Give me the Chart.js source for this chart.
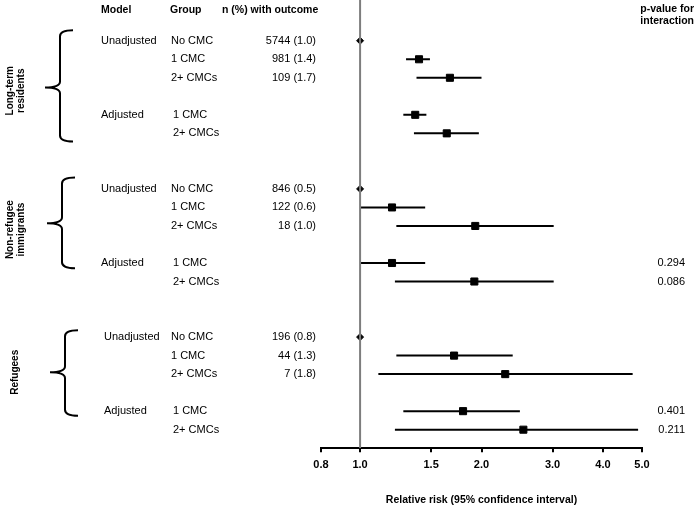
<!DOCTYPE html>
<html>
<head>
<meta charset="utf-8">
<script src="https://cdn.jsdelivr.net/npm/chart.js@4"></script>
<style>
  body { margin: 0; background: #fff; }
</style>
</head>
<body>
<canvas id="forest" width="696" height="509"></canvas>
<script>
// Rows of the forest plot (row index = vertical slot, gaps leave blank lines)
const rowIndex = [0, 1, 2, 4, 5, 8, 9, 10, 12, 13, 16, 17, 18, 20, 21];
const groupLabels = ['No CMC', '1 CMC', '2+ CMCs', '1 CMC', '2+ CMCs',
                     'No CMC', '1 CMC', '2+ CMCs', '1 CMC', '2+ CMCs',
                     'No CMC', '1 CMC', '2+ CMCs', '1 CMC', '2+ CMCs'];
const modelLabels = ['Unadjusted', '', '', 'Adjusted', '',
                     'Unadjusted', '', '', 'Adjusted', '',
                     'Unadjusted', '', '', 'Adjusted', ''];
const outcomeLabels = ['5744 (1.0)', '981 (1.4)', '109 (1.7)', '', '',
                       '846 (0.5)', '122 (0.6)', '18 (1.0)', '', '',
                       '196 (0.8)', '44 (1.3)', '7 (1.8)', '', ''];
const pValues = ['', '', '', '', '',
                 '', '', '', '0.294', '0.086',
                 '', '', '', '0.401', '0.211'];

// Relative risk and 95% CI (reference rows have no interval)
const rrEstimate = [1.00, 1.40, 1.67, 1.37, 1.64,
                    1.00, 1.20, 1.93, 1.20, 1.92,
                    1.00, 1.71, 2.29, 1.80, 2.54];
const rrLower = [null, 1.30, 1.38, 1.28, 1.36,
                 null, 1.00, 1.23, 1.00, 1.22,
                 null, 1.23, 1.11, 1.28, 1.22];
const rrUpper = [null, 1.49, 2.00, 1.46, 1.97,
                 null, 1.45, 3.02, 1.45, 3.02,
                 null, 2.39, 4.74, 2.49, 4.89];

const populations = [['Long-term', 'residents'], ['Non-refugee', 'immigrants'], ['Refugees']];
const tickValues = [0.8, 1.0, 1.5, 2.0, 3.0, 4.0, 5.0];

const FONT = '"Liberation Sans", Arial, sans-serif';
const Y_MIN = -2.2, Y_MAX = 22;

// Build datasets from the arrays
const ciSets = [];
rowIndex.forEach((r, i) => {
  if (rrLower[i] === null) return;
  ciSets.push({
    data: [{ x: rrLower[i], y: r }, { x: rrUpper[i], y: r }],
    showLine: true,
    borderColor: '#000',
    borderWidth: 2,
    pointRadius: 0
  });
});

const datasets = [
  {
    // vertical line of no effect
    data: [{ x: 1, y: Y_MIN }, { x: 1, y: Y_MAX }],
    showLine: true,
    borderColor: '#7d7d7d',
    borderWidth: 2,
    pointRadius: 0
  },
  ...ciSets,
  {
    data: rowIndex.map((r, i) => ({ x: rrEstimate[i], y: r })),
    pointStyle: rrLower.map(v => v === null ? 'rectRot' : 'rect'),
    pointRadius: rrLower.map(v => v === null ? 3.5 : 5),
    backgroundColor: '#000',
    borderColor: '#000',
    borderWidth: 1
  }
];

// Braces per population: [top, tip, bottom] in row units, plus x of spine
const braces = [
  { rows: [-0.56, 2.53, 5.44], x: 60, labelY: 2.7 },
  { rows: [7.39, 9.86, 12.29], x: 62, labelY: 10.2 },
  { rows: [15.63, 17.9, 20.25], x: 65, labelY: 17.9 }
];

const tablePlugin = {
  id: 'tableText',
  afterDraw(chart) {
    const ctx = chart.ctx;
    const y = chart.scales.y;
    ctx.save();
    ctx.fillStyle = '#000';
    ctx.textBaseline = 'middle';

    // headers
    ctx.font = 'bold 10.5px ' + FONT;
    ctx.textAlign = 'left';
    ctx.fillText('Model', 101, 10);
    ctx.fillText('Group', 170, 10);
    ctx.fillText('n (%) with outcome', 222, 10);
    ctx.textAlign = 'right';
    ctx.fillText('p-value for', 694, 9);
    ctx.fillText('interaction', 694, 21);

    // row text
    ctx.font = '11px ' + FONT;
    rowIndex.forEach((r, i) => {
      const py = y.getPixelForValue(r);
      ctx.textAlign = 'left';
      if (modelLabels[i]) ctx.fillText(modelLabels[i], i >= 10 ? 104 : 101, py);
      ctx.fillText(groupLabels[i], i % 5 >= 3 ? 173 : 171, py);
      ctx.textAlign = 'right';
      if (outcomeLabels[i]) ctx.fillText(outcomeLabels[i], 316, py);
      if (pValues[i]) ctx.fillText(pValues[i], 685, py);
    });

    // braces and rotated population labels
    ctx.strokeStyle = '#000';
    ctx.lineWidth = 2;
    braces.forEach((b, k) => {
      const top = y.getPixelForValue(b.rows[0]);
      const mid = y.getPixelForValue(b.rows[1]);
      const bot = y.getPixelForValue(b.rows[2]);
      const xv = b.x, hook = xv + 13, tip = xv - 15, rr = 6;
      ctx.beginPath();
      ctx.moveTo(hook, top);
      ctx.quadraticCurveTo(xv, top, xv, top + rr);
      ctx.lineTo(xv, mid - rr);
      ctx.quadraticCurveTo(xv, mid, tip, mid);
      ctx.quadraticCurveTo(xv, mid, xv, mid + rr);
      ctx.lineTo(xv, bot - rr);
      ctx.quadraticCurveTo(xv, bot, hook, bot);
      ctx.stroke();

      const lines = populations[k];
      ctx.save();
      ctx.translate(lines.length > 1 ? 16 : 15, y.getPixelForValue(b.labelY));
      ctx.rotate(-Math.PI / 2);
      ctx.font = 'bold 10px ' + FONT;
      ctx.textAlign = 'center';
      lines.forEach((t, j) => {
        ctx.fillText(t, 0, (j - (lines.length - 1) / 2) * 11);
      });
      ctx.restore();
    });
    ctx.restore();
  }
};

new Chart(document.getElementById('forest'), {
  type: 'scatter',
  data: { datasets },
  options: {
    responsive: false,
    animation: false,
    layout: { autoPadding: false, padding: { left: 321, right: 54, top: 0, bottom: 1 } },
    plugins: {
      legend: { display: false },
      tooltip: { enabled: false }
    },
    scales: {
      x: {
        type: 'logarithmic',
        position: 'bottom',
        min: 0.8,
        max: 5,
        afterBuildTicks: s => { s.ticks = tickValues.map(v => ({ value: v })); },
        border: { display: true, color: '#000', width: 2 },
        grid: { drawOnChartArea: false, drawTicks: true, tickLength: 4, color: '#000', lineWidth: 2 },
        ticks: {
          autoSkip: false,
          maxRotation: 0,
          padding: 6,
          color: '#000',
          font: { family: FONT, size: 11, weight: 'bold' },
          callback: v => Number(v).toFixed(1)
        },
        title: {
          display: true,
          text: 'Relative risk (95% confidence interval)',
          color: '#000',
          font: { family: FONT, size: 10.5, weight: 'bold' },
          padding: { top: 16, bottom: 2 }
        }
      },
      y: {
        type: 'linear',
        reverse: true,
        min: Y_MIN,
        max: Y_MAX,
        display: false
      }
    }
  },
  plugins: [tablePlugin]
});
</script>
</body>
</html>
